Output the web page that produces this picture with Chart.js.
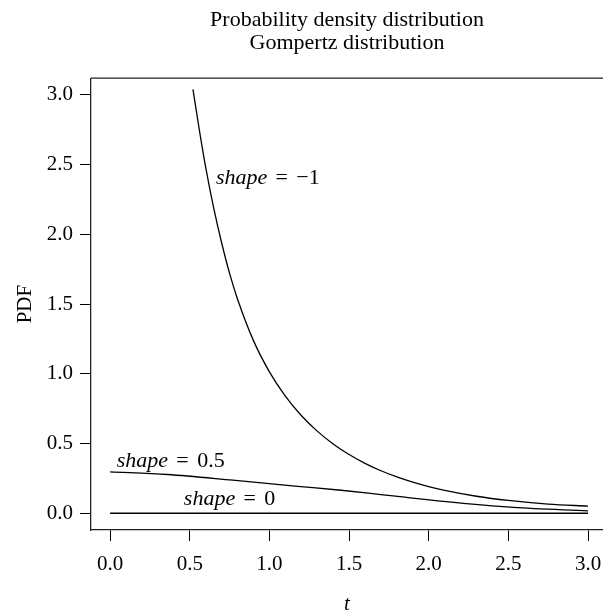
<!DOCTYPE html>
<html>
<head>
<meta charset="utf-8">
<script src="https://cdn.jsdelivr.net/npm/chart.js@4"></script>
<style>
  html, body { margin: 0; padding: 0; background: #fff; overflow: hidden; }
  #wrap { width: 603px; height: 613px; }
</style>
</head>
<body>
<div id="wrap"><canvas id="myChart" width="603" height="613"></canvas></div>
<script>
// values
var tNeg1 = [0.52, 0.56, 0.60, 0.65, 0.70, 0.75, 0.80, 0.90, 1.00, 1.10, 1.20, 1.30, 1.40, 1.50, 1.60, 1.70, 1.80, 1.90, 2.00, 2.10, 2.30, 2.50, 2.75, 3.00];
var pdfNeg1 = [3.04, 2.75, 2.48, 2.19, 1.94, 1.72, 1.535, 1.238, 1.014, 0.840, 0.701, 0.589, 0.497, 0.421, 0.358, 0.305, 0.261, 0.223, 0.191, 0.164, 0.122, 0.092, 0.066, 0.051];

var tHalf = [0.00, 0.36, 0.77, 1.16, 1.45, 1.70, 1.82, 2.11, 2.53, 3.00];
var pdfHalf = [0.297, 0.278, 0.237, 0.195, 0.165, 0.134, 0.119, 0.083, 0.042, 0.017];

var tZero = [0.0, 1.0, 2.0, 3.0];
var pdfZero = [0, 0, 0, 0];

var xTicks = [0, 0.5, 1, 1.5, 2, 2.5, 3];
var yTicks = [0, 0.5, 1, 1.5, 2, 2.5, 3];

// curve labels
var labelShape = ["\u22121", "0.5", "0"];
var labelT = [0.99, 0.38, 0.75];
var labelPdf = [2.40, 0.375, 0.10];

var serif = "'Liberation Serif', 'DejaVu Serif', serif";

function toPoints(xs, ys) {
    return xs.map(function (x, i) { return { x: x, y: ys[i] }; });
}

function curve(xs, ys) {
    return {
        data: toPoints(xs, ys),
        borderColor: "#000",
        borderWidth: 1.3,
        pointRadius: 0,
        fill: false,
        cubicInterpolationMode: "monotone"
    };
}

// top line of the box and the curve labels
var extras = {
    id: "extras",
    afterDraw: function (chart) {
        var ctx = chart.ctx;
        var area = chart.chartArea;
        ctx.save();
        ctx.strokeStyle = "#222";
        ctx.lineWidth = 1.3;
        ctx.beginPath();
        ctx.moveTo(area.left, area.top);
        ctx.lineTo(area.right + 2, area.top);
        ctx.stroke();

        var xs = chart.scales.x, ys = chart.scales.y;
        var size = 22;
        var gap = size * 0.38;
        ctx.fillStyle = "#000";
        ctx.textBaseline = "middle";
        for (var i = 0; i < labelShape.length; i++) {
            var italic = "italic " + size + "px " + serif;
            var upright = size + "px " + serif;
            ctx.font = italic;
            var w1 = ctx.measureText("shape").width;
            ctx.font = upright;
            var wEq = ctx.measureText("=").width;
            var wVal = ctx.measureText(labelShape[i]).width;
            var total = w1 + gap + wEq + gap + wVal;
            var cx = xs.getPixelForValue(labelT[i]);
            var cy = ys.getPixelForValue(labelPdf[i]);
            var x0 = cx - total / 2;
            ctx.font = italic;
            ctx.fillText("shape", x0, cy);
            ctx.font = upright;
            ctx.fillText("=", x0 + w1 + gap, cy);
            ctx.fillText(labelShape[i], x0 + w1 + gap + wEq + gap, cy);
        }
        ctx.restore();
    }
};

new Chart("myChart", {
    type: "line",
    data: {
        datasets: [curve(tNeg1, pdfNeg1), curve(tHalf, pdfHalf), curve(tZero, pdfZero)]
    },
    options: {
        responsive: false,
        animation: false,
        clip: true,
        plugins: {
            legend: { display: false },
            tooltip: { enabled: false },
            title: {
                display: true,
                fullSize: false,
                text: ["Probability density distribution", "Gompertz distribution"],
                color: "#000",
                font: { family: serif, size: 22, weight: "normal", lineHeight: 1.05 },
                padding: { top: 9, bottom: 23 }
            }
        },
        scales: {
            x: {
                type: "linear",
                min: -0.12,
                max: 3.094,
                afterBuildTicks: function (s) { s.ticks = xTicks.map(function (v) { return { value: v }; }); },
                afterFit: function (s) {
                    s.height = 83;
                    s.paddingLeft = 0;
                    s.paddingRight = 0;
                },
                ticks: {
                    includeBounds: false,
                    color: "#000",
                    padding: 11,
                    maxRotation: 0,
                    font: { family: serif, size: 21 },
                    callback: function (v) { return Number(v).toFixed(1); }
                },
                grid: { drawOnChartArea: false, tickLength: 11, color: "#000", tickWidth: 1 },
                border: { display: true, color: "#222", width: 1.3 },
                title: {
                    display: true,
                    text: "t",
                    color: "#000",
                    font: { family: serif, size: 21, style: "italic", lineHeight: 0.8 },
                    padding: { top: 0, bottom: 0 }
                }
            },
            y: {
                type: "linear",
                min: -0.12,
                max: 3.12,
                afterBuildTicks: function (s) { s.ticks = yTicks.map(function (v) { return { value: v }; }); },
                afterFit: function (s) { s.width = 91; },
                ticks: {
                    includeBounds: false,
                    color: "#000",
                    padding: 7,
                    font: { family: serif, size: 21 },
                    callback: function (v) { return Number(v).toFixed(1); }
                },
                grid: { drawOnChartArea: false, tickLength: 11, color: "#000", tickWidth: 1 },
                border: { display: true, color: "#222", width: 1.3 },
                title: {
                    display: true,
                    text: "PDF",
                    color: "#000",
                    font: { family: serif, size: 21, lineHeight: 1.2 },
                    padding: { top: 13, bottom: 0 }
                }
            }
        }
    },
    plugins: [extras]
});
</script>
</body>
</html>
